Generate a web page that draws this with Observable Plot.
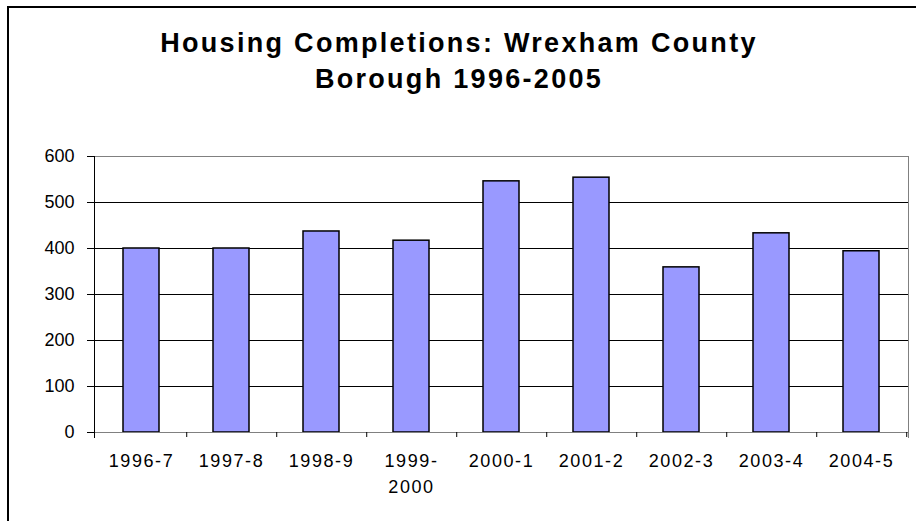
<!DOCTYPE html>
<html>
<head>
<meta charset="utf-8">
<script src="https://cdn.jsdelivr.net/npm/d3@7"></script>
<script src="https://cdn.jsdelivr.net/npm/@observablehq/plot@0.6"></script>
<style>
  html, body { margin: 0; padding: 0; background: #fff; overflow: hidden; }
  #wrap { position: relative; width: 916px; height: 521px; overflow: hidden; font-family: "Liberation Sans", Arial, sans-serif; background: #fff; }
  #chart { position: absolute; left: 0; top: 0; }
  #title { position: absolute; left: 0; top: 25px; width: 918px; text-align: center; font-weight: bold; font-size: 27px; letter-spacing: 2.3px; line-height: 36px; color: #000; }
  #border { position: absolute; left: 7px; top: 6px; width: 1000px; height: 1000px; border-left: 2px solid #000; border-top: 2px solid #000; pointer-events: none; }
  #chart g[aria-label="x-axis tick label"] text { letter-spacing: 1.6px; }
</style>
</head>
<body>
<div id="wrap">
  <div id="chart"></div>
  <div id="title">Housing Completions: Wrexham County<br>Borough 1996-2005</div>
  <div id="border"></div>
</div>
<script>
const categories = ["1996-7", "1997-8", "1998-9", "1999-2000", "2000-1", "2001-2", "2002-3", "2003-4", "2004-5"];
const tickLabels = ["1996-7", "1997-8", "1998-9", "1999-\n2000", "2000-1", "2001-2", "2002-3", "2003-4", "2004-5"];
const completions = [400, 400, 437, 417, 546, 554, 359, 433, 394];
const yTicks = [0, 100, 200, 300, 400, 500, 600];
const gridTicks = [100, 200, 300, 400, 500];

const W = 916, H = 521;
const mL = 94, mR = 8, mT = 156, mB = 89;
const step = (W - mL - mR) / categories.length;
const labelOf = Object.fromEntries(categories.map((c, i) => [c, tickLabels[i]]));
const data = categories.map((c, i) => ({category: c, value: completions[i]}));
const font = '"Liberation Sans", Arial, sans-serif';

const chart = Plot.plot({
  width: W,
  height: H,
  marginLeft: mL,
  marginRight: mR,
  marginTop: mT,
  marginBottom: mB,
  style: {fontFamily: font, background: "transparent", color: "#000", overflow: "visible"},
  x: {domain: categories, paddingInner: 0.6, paddingOuter: 0.3, label: null},
  y: {domain: [0, 600], label: null},
  marks: [
    Plot.gridY(gridTicks, {stroke: "#000", strokeOpacity: 1}),
    Plot.frame({anchor: "top", stroke: "#808080"}),
    Plot.frame({anchor: "right", stroke: "#808080", insetBottom: -5}),
    Plot.barY(data, {x: "category", y: "value", fill: "#9999ff", stroke: "#000", strokeWidth: 1.5}),
    Plot.ruleY([0], {stroke: "#808080"}),
    Plot.frame({anchor: "left", stroke: "#000", insetBottom: -5}),
    Plot.axisY(yTicks, {tickSize: 7, tickPadding: 13, fontSize: 18, stroke: "#000", label: null}),
    Plot.axisX({ticks: categories, tickSize: 5, dx: step / 2, tickFormat: () => "", stroke: "#000", label: null}),
    Plot.axisX({ticks: categories, tickSize: 0, tickPadding: 16, fontSize: 18, lineHeight: 1.45, tickFormat: d => labelOf[d], label: null})
  ]
});
document.getElementById("chart").appendChild(chart);
</script>
</body>
</html>
